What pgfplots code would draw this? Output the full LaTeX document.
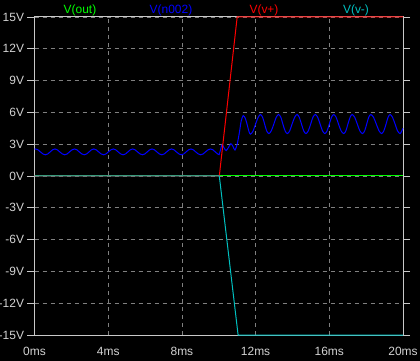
\documentclass[border=0pt]{standalone}
\usepackage{pgfplots}
\pgfplotsset{compat=1.18}
\usepackage{fontspec}
\setmainfont{Liberation Sans}
\definecolor{lblgray}{RGB}{210,210,210}
\definecolor{framegray}{RGB}{200,200,200}
\definecolor{gridgray}{RGB}{128,128,128}
\definecolor{vout}{RGB}{0,255,0}
\definecolor{vn}{RGB}{0,0,255}
\definecolor{vp}{RGB}{255,0,0}
\definecolor{vm}{RGB}{0,192,192}
\begin{document}
\begin{tikzpicture}
\path[use as bounding box, fill=black] (0,0) rectangle (420bp,361bp);
\begin{axis}[
  at={(34.5bp,26bp)}, anchor=south west,
  scale only axis, width=368.5bp, height=318bp,
  xmin=0, xmax=20, ymin=-15, ymax=15,
  clip=false,
  xtick={0,4,8,12,16,20},
  xticklabels={0ms,4ms,8ms,12ms,16ms,20ms},
  ytick={-15,-12,-9,-6,-3,0,3,6,9,12,15},
  yticklabels={-15V,-12V,-9V,-6V,-3V,0V,3V,6V,9V,12V,15V},
  tick align=outside,
  major tick length=7bp,
  xtick style={draw=none},
  ytick style={draw=framegray, line width=0.8bp},
  ticklabel style={font=\fontsize{12}{14}\selectfont, text=lblgray},
  xticklabel style={yshift=-1.4bp},
  grid=major,
  major grid style={draw=gridgray, line width=0.8bp, dash pattern=on 4bp off 4bp},
  axis line style={draw=framegray, line width=1bp},
]
\addplot[vout, line width=1bp] coordinates {(0,0) (20,0)};
\addplot[vn, line width=1bp, smooth] coordinates {
(0,2.54) (0.06,2.55) (0.19,2.47) (0.32,2.275) (0.46,2.08) (0.59,2.0) (0.72,2.08) (0.85,2.275) (0.98,2.47)
(1.11,2.55) (1.24,2.47) (1.37,2.275) (1.51,2.08) (1.64,2.0) (1.77,2.08) (1.90,2.275) (2.04,2.47)
(2.17,2.55) (2.30,2.47) (2.43,2.275) (2.57,2.08) (2.70,2.0) (2.83,2.08) (2.96,2.275) (3.09,2.47)
(3.22,2.55) (3.35,2.47) (3.48,2.275) (3.62,2.08) (3.75,2.0) (3.88,2.08) (4.01,2.275) (4.15,2.47)
(4.28,2.55) (4.41,2.47) (4.54,2.275) (4.68,2.08) (4.81,2.0) (4.94,2.08) (5.07,2.275) (5.20,2.47)
(5.33,2.55) (5.46,2.47) (5.59,2.275) (5.73,2.08) (5.86,2.0) (5.99,2.08) (6.12,2.275) (6.25,2.47)
(6.38,2.55) (6.51,2.47) (6.64,2.275) (6.78,2.08) (6.91,2.0) (7.04,2.08) (7.17,2.275) (7.31,2.47)
(7.44,2.55) (7.57,2.47) (7.70,2.275) (7.84,2.08) (7.97,2.0) (8.10,2.08) (8.23,2.275) (8.36,2.47)
(8.49,2.55) (8.62,2.47) (8.75,2.275) (8.89,2.08) (9.02,2.0) (9.15,2.08) (9.28,2.275) (9.42,2.47)
(9.55,2.55) (9.68,2.47) (9.81,2.275) (9.94,2.08) (10.02,2.02)
(10.10,2.5) (10.18,2.95) (10.29,2.65) (10.40,2.4) (10.53,2.7) (10.66,3.05) (10.77,2.8) (10.88,2.45)
(11.0,3.0) (11.12,4.1) (11.22,5.2) (11.33,5.7)
(11.45,5.4) (11.55,4.8) (11.64,4.2) (11.72,3.95) (11.85,4.2) (12.0,4.9) (12.13,5.5)
(12.26,5.8) (12.38,5.54) (12.49,4.9) (12.60,4.26) (12.72,4.0) (12.85,4.26) (12.99,4.9) (13.12,5.54)
(13.25,5.8) (13.37,5.54) (13.48,4.9) (13.60,4.26) (13.72,4.0) (13.85,4.26) (13.98,4.9) (14.12,5.54)
(14.25,5.8) (14.37,5.54) (14.49,4.9) (14.61,4.26) (14.73,4.0) (14.86,4.26) (14.99,4.9) (15.11,5.54)
(15.24,5.8) (15.37,5.54) (15.50,4.9) (15.63,4.26) (15.76,4.0) (15.88,4.26) (16.00,4.9) (16.12,5.54)
(16.24,5.8) (16.37,5.54) (16.50,4.9) (16.64,4.26) (16.78,4.0) (16.90,4.26) (17.01,4.9) (17.13,5.54)
(17.24,5.8) (17.38,5.54) (17.52,4.9) (17.66,4.26) (17.80,4.0) (17.92,4.26) (18.03,4.9) (18.14,5.54)
(18.25,5.8) (18.40,5.54) (18.55,4.9) (18.70,4.26) (18.84,4.0) (18.96,4.26) (19.08,4.9) (19.19,5.54)
(19.30,5.8) (19.43,5.54) (19.57,4.9) (19.70,4.26) (19.84,4.0) (19.92,4.2) (20.0,4.5)
};
\addplot[vp, line width=1bp] coordinates {(0,0) (10.03,0) (11.0,15) (20,15)};
\addplot[vm, line width=1bp] coordinates {(0,0) (10.03,0) (11.05,-15) (20,-15)};
\end{axis}
\begin{scope}[every node/.style={font=\fontsize{12}{14}\selectfont, anchor=base, inner sep=0pt}]
\node[text=vout] at (80bp,347.7bp) {V(out)};
\node[text=vn] at (171bp,347.7bp) {V(n002)};
\node[text=vp] at (264bp,347.7bp) {V(v+)};
\node[text=vm] at (356bp,347.7bp) {V(v-)};
\end{scope}
\end{tikzpicture}
\end{document}
